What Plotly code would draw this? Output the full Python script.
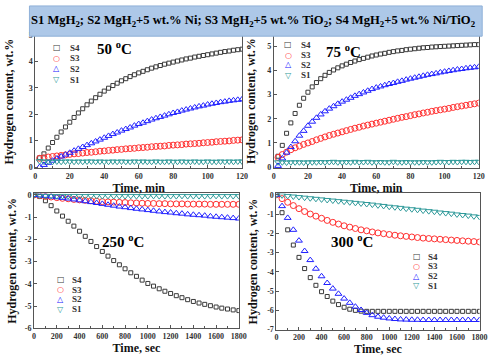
import plotly.graph_objects as go

# ---------------- data ----------------
time_min = [2.5, 5, 7.5, 10, 12.5, 15, 17.5, 20, 22.5, 25, 27.5, 30, 32.5, 35, 37.5, 40,
            42.5, 45, 47.5, 50, 52.5, 55, 57.5, 60, 62.5, 65, 67.5, 70, 72.5, 75, 77.5, 80,
            82.5, 85, 87.5, 90, 92.5, 95, 97.5, 100, 102.5, 105, 107.5, 110, 112.5, 115, 117.5, 120]
time_sec = [0, 50, 100, 150, 200, 250, 300, 350, 400, 450, 500, 550, 600, 650, 700, 750, 800,
            850, 900, 950, 1000, 1050, 1100, 1150, 1200, 1250, 1300, 1350, 1400, 1450, 1500,
            1550, 1600, 1650, 1700, 1750, 1800]

series_names = ["S4", "S3", "S2", "S1"]

abs50_s4 = [0.35, 0.5, 0.72, 0.93, 1.13, 1.33, 1.52, 1.7, 1.88, 2.05, 2.21, 2.36, 2.5, 2.63, 2.76, 2.88,
            2.99, 3.09, 3.18, 3.27, 3.35, 3.43, 3.5, 3.57, 3.63, 3.69, 3.75, 3.8, 3.85, 3.9, 3.94, 3.98,
            4.02, 4.06, 4.1, 4.13, 4.17, 4.2, 4.23, 4.26, 4.29, 4.32, 4.35, 4.38, 4.4, 4.43, 4.45, 4.47]
abs50_s3 = [0.33, 0.35, 0.38, 0.4, 0.42, 0.44, 0.46, 0.48, 0.5, 0.51, 0.53, 0.55, 0.56, 0.58, 0.6, 0.61,
            0.63, 0.64, 0.66, 0.67, 0.69, 0.7, 0.71, 0.73, 0.74, 0.75, 0.77, 0.78, 0.79, 0.8, 0.82, 0.83,
            0.84, 0.85, 0.87, 0.88, 0.89, 0.9, 0.92, 0.93, 0.94, 0.96, 0.97, 0.98, 0.99, 1.01, 1.02, 1.03]
abs50_s2 = [0.0, 0.08, 0.16, 0.24, 0.32, 0.4, 0.47, 0.54, 0.62, 0.69, 0.76, 0.83, 0.9, 0.97, 1.04, 1.11,
            1.18, 1.25, 1.31, 1.38, 1.44, 1.5, 1.57, 1.63, 1.68, 1.74, 1.8, 1.85, 1.9, 1.95, 2.0, 2.05,
            2.09, 2.14, 2.18, 2.22, 2.26, 2.3, 2.33, 2.37, 2.4, 2.43, 2.46, 2.48, 2.51, 2.53, 2.55, 2.57]
abs50_s1 = [0.22, 0.21, 0.21, 0.2, 0.21, 0.2, 0.21, 0.21, 0.2, 0.21, 0.2, 0.21, 0.21, 0.2, 0.21, 0.2,
            0.2, 0.21, 0.2, 0.21, 0.2, 0.2, 0.21, 0.2, 0.21, 0.2, 0.2, 0.21, 0.2, 0.2, 0.21, 0.2,
            0.2, 0.21, 0.2, 0.2, 0.21, 0.2, 0.2, 0.21, 0.2, 0.2, 0.21, 0.2, 0.21, 0.2, 0.21, 0.21]

abs75_s4 = [0.45, 0.9, 1.4, 1.83, 2.22, 2.56, 2.85, 3.1, 3.32, 3.5, 3.66, 3.8, 3.92, 4.02, 4.11, 4.19,
            4.26, 4.33, 4.39, 4.45, 4.5, 4.55, 4.6, 4.64, 4.68, 4.71, 4.75, 4.78, 4.81, 4.83, 4.86, 4.88,
            4.9, 4.92, 4.94, 4.95, 4.97, 4.98, 4.99, 5.0, 5.01, 5.02, 5.03, 5.04, 5.05, 5.06, 5.07, 5.07]
abs75_s3 = [0.4, 0.52, 0.62, 0.72, 0.8, 0.87, 0.94, 1.0, 1.06, 1.13, 1.19, 1.25, 1.31, 1.36, 1.41, 1.46,
            1.51, 1.56, 1.61, 1.65, 1.7, 1.74, 1.78, 1.82, 1.86, 1.9, 1.94, 1.98, 2.02, 2.06, 2.09, 2.13,
            2.17, 2.2, 2.24, 2.27, 2.31, 2.34, 2.37, 2.4, 2.43, 2.47, 2.5, 2.53, 2.56, 2.59, 2.62, 2.65]
abs75_s2 = [0.05, 0.36, 0.6, 0.83, 1.07, 1.3, 1.5, 1.71, 1.88, 2.04, 2.18, 2.31, 2.42, 2.52, 2.62, 2.71,
            2.79, 2.87, 2.95, 3.02, 3.09, 3.16, 3.23, 3.29, 3.34, 3.39, 3.44, 3.48, 3.53, 3.57, 3.62, 3.66,
            3.7, 3.74, 3.78, 3.82, 3.85, 3.88, 3.92, 3.95, 3.98, 4.01, 4.04, 4.06, 4.09, 4.11, 4.13, 4.15]
abs75_s1 = [0.2, 0.2, 0.19, 0.2, 0.2, 0.2, 0.19, 0.2, 0.2, 0.2, 0.21, 0.2, 0.21, 0.22, 0.2, 0.2,
            0.21, 0.2, 0.22, 0.2, 0.21, 0.22, 0.2, 0.2, 0.21, 0.2, 0.2, 0.22, 0.2, 0.2, 0.21, 0.2,
            0.2, 0.2, 0.21, 0.2, 0.2, 0.21, 0.22, 0.21, 0.21, 0.22, 0.21, 0.22, 0.22, 0.21, 0.22, 0.22]

des250_s4 = [0, -0.07, -0.26, -0.48, -0.72, -0.95, -1.18, -1.4, -1.63, -1.86, -2.09, -2.32, -2.54,
             -2.75, -2.95, -3.14, -3.32, -3.5, -3.66, -3.83, -3.98, -4.1, -4.22, -4.33, -4.43, -4.53,
             -4.62, -4.71, -4.79, -4.86, -4.92, -4.98, -5.04, -5.09, -5.13, -5.17, -5.2]
des250_s3 = [0, -0.03, -0.06, -0.09, -0.12, -0.15, -0.17, -0.2, -0.22, -0.24, -0.26, -0.28, -0.3,
             -0.31, -0.32, -0.33, -0.34, -0.35, -0.36, -0.37, -0.38, -0.38, -0.39, -0.39, -0.4, -0.4,
             -0.4, -0.41, -0.41, -0.41, -0.41, -0.42, -0.42, -0.42, -0.42, -0.42, -0.42]
des250_s2 = [0, -0.02, -0.04, -0.07, -0.1, -0.13, -0.16, -0.2, -0.24, -0.28, -0.32, -0.36, -0.4,
             -0.44, -0.48, -0.52, -0.55, -0.59, -0.62, -0.65, -0.68, -0.71, -0.74, -0.77, -0.79, -0.82,
             -0.84, -0.87, -0.89, -0.91, -0.93, -0.96, -0.98, -1.0, -1.02, -1.04, -1.06]
des250_s1 = [0, -0.03, -0.04, -0.04, -0.05, -0.04, -0.05, -0.04, -0.05, -0.05, -0.04, -0.05, -0.05,
             -0.04, -0.05, -0.05, -0.05, -0.04, -0.05, -0.05, -0.05, -0.04, -0.05, -0.05, -0.05, -0.05,
             -0.04, -0.05, -0.05, -0.05, -0.05, -0.05, -0.04, -0.05, -0.05, -0.05, -0.05]

des300_s4 = [0, -0.93, -1.82, -2.61, -3.25, -3.83, -4.3, -4.7, -5.03, -5.28, -5.52, -5.7, -5.84,
             -5.94, -6.0, -6.04, -6.05, -6.05, -6.05, -6.05, -6.05, -6.05, -6.05, -6.05, -6.05, -6.05,
             -6.05, -6.05, -6.05, -6.05, -6.05, -6.05, -6.05, -6.05, -6.05, -6.05, -6.05]
des300_s3 = [0, -0.2, -0.39, -0.56, -0.72, -0.87, -1.0, -1.11, -1.22, -1.33, -1.43, -1.52, -1.61,
             -1.68, -1.75, -1.82, -1.87, -1.93, -1.98, -2.02, -2.06, -2.1, -2.13, -2.16, -2.19, -2.22,
             -2.25, -2.27, -2.29, -2.31, -2.33, -2.35, -2.37, -2.39, -2.41, -2.43, -2.45]
des300_s2 = [0, -0.59, -1.2, -1.82, -2.38, -2.92, -3.39, -3.84, -4.23, -4.58, -4.87, -5.14, -5.39,
             -5.61, -5.81, -5.98, -6.13, -6.25, -6.33, -6.38, -6.42, -6.45, -6.47, -6.48, -6.49, -6.49,
             -6.5, -6.5, -6.5, -6.5, -6.5, -6.5, -6.5, -6.5, -6.5, -6.5, -6.5]
des300_s1 = [0, -0.03, -0.06, -0.09, -0.12, -0.15, -0.18, -0.21, -0.24, -0.27, -0.3, -0.33, -0.36,
             -0.39, -0.42, -0.45, -0.48, -0.51, -0.55, -0.58, -0.62, -0.65, -0.68, -0.72, -0.75, -0.78,
             -0.82, -0.85, -0.88, -0.92, -0.95, -0.98, -1.02, -1.05, -1.08, -1.12, -1.15]

xticks_min = [0, 20, 40, 60, 80, 100, 120]
xticks_sec = [0, 200, 400, 600, 800, 1000, 1200, 1400, 1600, 1800]
yticks_abs = [0, 1, 2, 3, 4, 5]
yticks_250 = [-6, -5, -4, -3, -2, -1, 0]
ytext_250 = ["-6", "-5", "-4", "-3", "-2", "-1", "0"]
yticks_300 = [-7, -6, -5, -4, -3, -2, -1, 0]
ytext_300 = ["-7", "-6", "-5", "-4", "-3", "-2", "-1", "0"]

banner_text = ("S1 MgH<sub>2</sub>; S2 MgH<sub>2</sub>+5 wt.% Ni; S3 MgH<sub>2</sub>+5 wt.% TiO<sub>2</sub>; "
               "S4 MgH<sub>2</sub>+5 wt.% Ni/TiO<sub>2</sub>")
panel_labels = ["50 <sup>o</sup>C", "75 <sup>o</sup>C", "250 <sup>o</sup>C", "300 <sup>o</sup>C"]
x_titles = ["Time, min", "Time, min", "Time, sec", "Time, sec"]
y_title = "Hydrogen content, wt.%"

# ---------------- style ----------------
W, H = 500, 359
SERIF = "Liberation Serif"
colors = {"S4": "#3a3a3a", "S3": "#ff3030", "S2": "#2020ff", "S1": "#2f9a9a"}
symbols = {"S4": "square-open", "S3": "circle-open", "S2": "triangle-up-open", "S1": "triangle-down-open"}
msize = {"S4": 4, "S3": 6, "S2": 6, "S1": 6}
legend_glyph = {"S4": "□", "S3": "○", "S2": "△", "S1": "▽"}


def px_x(x):
    return x / W


def px_y(y):
    return 1 - y / H


fig = go.Figure()

panels = [
    dict(t=time_min, data=[abs50_s4, abs50_s3, abs50_s2, abs50_s1],
         xd=[34, 245], yd=[32, 168.3], xr=[0, 120], yr=[-0.04, 5.0],
         xt=xticks_min, yt=yticks_abs, ytt=None, xminor=10, ystand=12),
    dict(t=time_min, data=[abs75_s4, abs75_s3, abs75_s2, abs75_s1],
         xd=[277.3, 486.5], yd=[31, 168.3], xr=[0, 120], yr=[-0.04, 5.5],
         xt=xticks_min, yt=yticks_abs, ytt=None, xminor=10, ystand=8),
    dict(t=time_sec, data=[des250_s4, des250_s3, des250_s2, des250_s1],
         xd=[32.7, 241.7], yd=[194.3, 332.7], xr=[0, 1800], yr=[-6, 0.07],
         xt=xticks_sec, yt=yticks_250, ytt=ytext_250, xminor=100, ystand=5),
    dict(t=time_sec, data=[des300_s4, des300_s3, des300_s2, des300_s1],
         xd=[280, 487.3], yd=[194.3, 334], xr=[0, 1800], yr=[-7, 0.07],
         xt=xticks_sec, yt=yticks_300, ytt=ytext_300, xminor=100, ystand=6),
]

tickfont = dict(family=SERIF, size=8, color="#333", weight="bold")
titlefont = dict(family=SERIF, size=12, color="#111", weight="bold")

for i, p in enumerate(panels):
    n = "" if i == 0 else str(i + 1)
    for name, vals in zip(series_names, p["data"]):
        fig.add_trace(go.Scatter(
            x=p["t"], y=vals, mode="markers", name=name, showlegend=False,
            xaxis="x" + n, yaxis="y" + n,
            marker=dict(symbol=symbols[name], size=msize[name], color=colors[name],
                        line=dict(width=1, color=colors[name]))))
    xa = dict(domain=[px_x(p["xd"][0]), px_x(p["xd"][1])], range=p["xr"], anchor="y" + n,
              tickvals=p["xt"], ticks="inside", ticklen=3, tickcolor="#555",
              minor=dict(dtick=p["xminor"], ticks="inside", ticklen=2, tickcolor="#555"),
              showline=True, mirror=True, linecolor="#555", linewidth=1,
              showgrid=False, zeroline=False, tickfont=tickfont,
              title=dict(text=x_titles[i], font=titlefont, standoff=1))
    ya = dict(domain=[px_y(p["yd"][1]), px_y(p["yd"][0])], range=p["yr"], anchor="x" + n,
              tickvals=p["yt"], ticks="inside", ticklen=3, tickcolor="#555",
              showline=True, mirror=True, linecolor="#555", linewidth=1,
              showgrid=False, zeroline=False, tickfont=tickfont,
              title=dict(text=y_title, font=titlefont, standoff=p["ystand"]))
    if p["ytt"] is not None:
        ya["ticktext"] = p["ytt"]
    fig.update_layout(**{"xaxis" + n: xa, "yaxis" + n: ya})

# banner
fig.add_shape(type="rect", xref="paper", yref="paper",
              x0=px_x(28), x1=px_x(490), y0=px_y(33), y1=px_y(2),
              fillcolor="#adc8e8", line=dict(color="#8fb0d8", width=1), layer="above")
annotations = [dict(text=banner_text, xref="paper", yref="paper", x=px_x(257), y=px_y(17),
                    xanchor="center", yanchor="middle", showarrow=False,
                    font=dict(family=SERIF, size=12.6, color="#000", weight="bold"))]

# temperature labels
temp_pos = [(115, 45), (348, 48), (123, 243), (357, 243)]
for lab, (x, y) in zip(panel_labels, temp_pos):
    annotations.append(dict(text=lab, xref="paper", yref="paper", x=px_x(x), y=px_y(y),
                            xanchor="center", yanchor="middle", showarrow=False,
                            font=dict(family=SERIF, size=15, color="#000", weight="bold")))

# legends (symbol glyph + label)
legend_pos = [
    (56, 67, [45, 55.5, 66.5, 77.5]),
    (292, 303, [42, 52.5, 62.5, 73]),
    (60, 69, [283, 293, 303, 313]),
    (423, 433, [259, 269, 279, 289]),
]
for xs, xt, ys in legend_pos:
    for name, y in zip(series_names, ys):
        annotations.append(dict(text=legend_glyph[name], xref="paper", yref="paper",
                                x=px_x(xs), y=px_y(y), xanchor="center", yanchor="middle",
                                showarrow=False,
                                font=dict(family="DejaVu Sans", size=8, color=colors[name])))
        annotations.append(dict(text=name, xref="paper", yref="paper", x=px_x(xt), y=px_y(y),
                                xanchor="left", yanchor="middle", showarrow=False,
                                font=dict(family=SERIF, size=9, color="#333", weight="bold")))

fig.update_layout(width=W, height=H, margin=dict(l=0, r=0, t=0, b=0),
                  paper_bgcolor="white", plot_bgcolor="white", showlegend=False,
                  annotations=annotations, font=dict(family=SERIF))

fig.write_html("out.html", config={"displayModeBar": False},
               post_script="document.body.style.margin='0px';")
